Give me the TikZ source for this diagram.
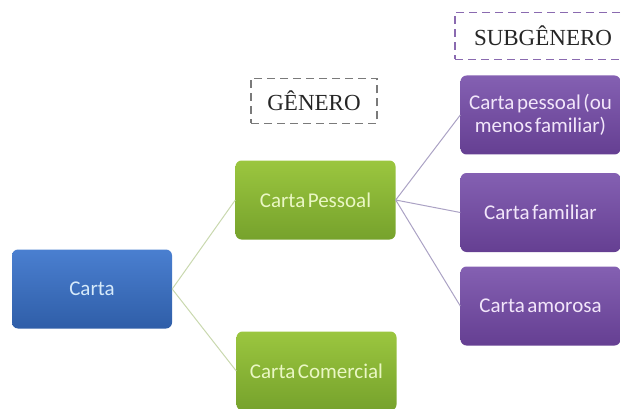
\documentclass[tikz,border=0pt]{standalone}
\usepackage{fontspec}
\setmainfont{Carlito}
\newfontfamily\labelfont{Liberation Serif}
\newcommand\boxfont{\fontsize{21}{23}\selectfont\spaceskip=0.12em\relax}

\definecolor{bluetop}{HTML}{4A7FD0}
\definecolor{bluebot}{HTML}{2F5EA8}
\definecolor{greentop}{HTML}{9BC63F}
\definecolor{greenbot}{HTML}{76A22C}
\definecolor{purptop}{HTML}{8460B2}
\definecolor{purpbot}{HTML}{653F92}
\definecolor{bluetext}{HTML}{D6EAFA}
\definecolor{greentext}{HTML}{EAF7C4}
\definecolor{purptext}{HTML}{F2E6FA}
\definecolor{greenline}{HTML}{C9D8AE}
\definecolor{purpline}{HTML}{ABA2C4}
\definecolor{dashgray}{HTML}{7A7A7A}
\definecolor{dashpurp}{HTML}{8A6AB0}

\tikzstyle{block} = [rounded corners=6pt,align=center,inner sep=2pt,
                     font=\boxfont,
                     minimum width=160pt,minimum height=79pt]
\tikzstyle{root}  = [block,top color=bluetop,bottom color=bluebot,text=bluetext]
\tikzstyle{gen}   = [block,top color=greentop,bottom color=greenbot,text=greentext]
\tikzstyle{sub}   = [block,top color=purptop,bottom color=purpbot,text=purptext]
\tikzstyle{tag}   = [draw,line width=1.3pt,dash pattern=on 8pt off 5pt,
                     font=\labelfont\fontsize{23}{25}\selectfont,
                     text=black!85,minimum height=45pt]

\begin{document}
\begin{tikzpicture}[x=1pt,y=-1pt]
  \useasboundingbox (0,0) rectangle (621,409);

  \node[root] at (92,289) (carta)     {Carta};
  \node[gen]  at (315.5,200) (pessoal)  {Carta Pessoal};
  \node[gen]  at (316.5,371) (comercial) {Carta Comercial};
  \node[sub]  at (540.5,115) (menos)    {Carta pessoal (ou\\ menos familiar)};
  \node[sub]  at (540.5,212.5) (familiar) {Carta familiar};
  \node[sub]  at (540.5,306) (amorosa)  {Carta amorosa};

  \node[tag,draw=dashgray,minimum width=126pt] at (314,101) (genero) {GÊNERO};
  \node[tag,draw=dashpurp,minimum width=176pt,minimum height=47pt]
       at (543,36) (subgenero) {SUBGÊNERO};

  \draw[greenline,line width=1pt] (carta.east) -- (pessoal.west);
  \draw[greenline,line width=1pt] (carta.east) -- (comercial.west);
  \draw[purpline,line width=1pt] (pessoal.east) -- (menos.west);
  \draw[purpline,line width=1pt] (pessoal.east) -- (familiar.west);
  \draw[purpline,line width=1pt] (pessoal.east) -- (amorosa.west);
\end{tikzpicture}
\end{document}
